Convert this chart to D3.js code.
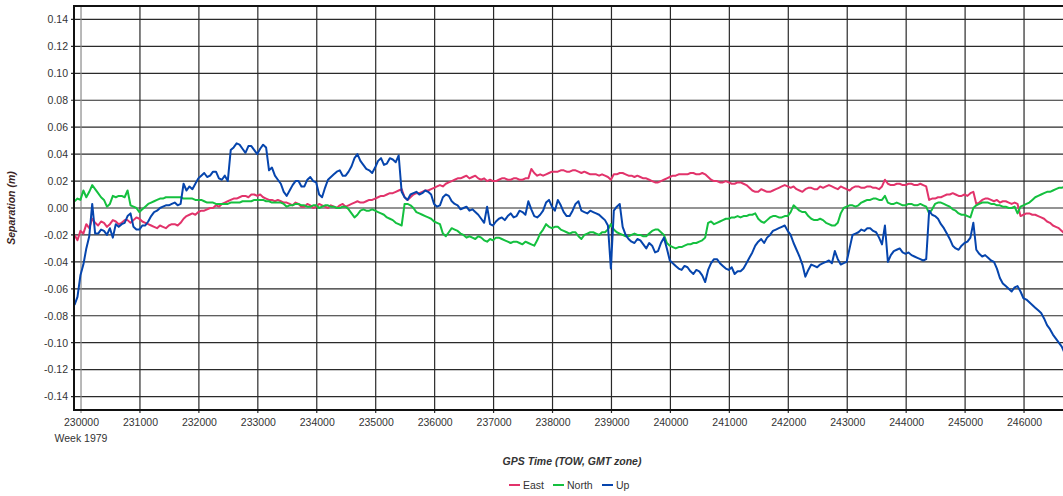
<!DOCTYPE html>
<html><head><meta charset="utf-8">
<script src="https://cdn.jsdelivr.net/npm/d3@7/dist/d3.min.js"></script>
<style>body{margin:0;background:#fff;} svg{display:block;font-family:"Liberation Sans",Arial,sans-serif;}</style>
</head><body><svg id="c" width="1063" height="496"></svg>
<script>
// GPS time of week samples (s), every 50 s
const tStart = 229890, tStep = 50;
const xTicks = [230000,231000,232000,233000,234000,235000,236000,237000,238000,239000,240000,241000,242000,243000,244000,245000,246000];
const yTicks = [-0.14,-0.12,-0.10,-0.08,-0.06,-0.04,-0.02,0.00,0.02,0.04,0.06,0.08,0.10,0.12,0.14];
const seriesNames = ["East","North","Up"];
const seriesColors = ["#e2336b","#14c03f","#0645ad"];

const east = [
 -0.020,-0.024,-0.017,-0.019,-0.012,-0.015,-0.008,-0.011,-0.013,-0.010,-0.011,-0.014,-0.012,-0.009,-0.010,-0.012,-0.011,-0.009,-0.009,-0.011,
 -0.009,-0.007,-0.008,-0.010,-0.011,-0.012,-0.013,-0.014,-0.015,-0.013,-0.014,-0.015,-0.013,-0.012,-0.012,-0.013,-0.011,-0.008,-0.006,-0.005,
 -0.004,-0.005,-0.003,-0.002,-0.002,-0.001,0.000,0.000,0.002,0.001,0.003,0.004,0.005,0.006,0.007,0.007,0.008,0.009,0.009,0.008,
 0.010,0.010,0.009,0.010,0.008,0.007,0.006,0.006,0.005,0.006,0.005,0.004,0.004,0.003,0.002,0.004,0.003,0.001,0.001,0.003,
 0.002,0.000,0.001,0.003,0.002,0.001,0.000,0.002,0.001,0.000,0.002,0.003,0.001,0.002,0.003,0.004,0.005,0.004,0.004,0.005,
 0.006,0.006,0.007,0.008,0.009,0.009,0.010,0.011,0.011,0.012,0.013,0.014,0.008,0.006,0.008,0.010,0.011,0.011,0.012,0.013,
 0.013,0.014,0.015,0.016,0.017,0.016,0.018,0.019,0.020,0.021,0.022,0.022,0.023,0.024,0.022,0.023,0.024,0.022,0.021,0.022,
 0.020,0.021,0.020,0.020,0.021,0.022,0.022,0.021,0.021,0.022,0.022,0.021,0.021,0.022,0.022,0.029,0.026,0.024,0.025,0.024,
 0.025,0.026,0.027,0.027,0.027,0.028,0.028,0.027,0.027,0.028,0.028,0.027,0.026,0.027,0.026,0.025,0.025,0.025,0.024,0.025,
 0.024,0.023,0.021,0.025,0.025,0.026,0.026,0.025,0.024,0.024,0.023,0.024,0.023,0.022,0.022,0.021,0.020,0.019,0.019,0.020,
 0.021,0.022,0.023,0.024,0.024,0.025,0.025,0.025,0.025,0.026,0.026,0.025,0.025,0.026,0.025,0.023,0.021,0.020,0.020,0.019,
 0.019,0.020,0.019,0.018,0.018,0.019,0.019,0.018,0.017,0.015,0.013,0.012,0.012,0.014,0.013,0.012,0.012,0.013,0.014,0.015,
 0.016,0.017,0.016,0.015,0.016,0.014,0.013,0.012,0.014,0.015,0.015,0.014,0.014,0.016,0.015,0.016,0.017,0.016,0.015,0.014,
 0.016,0.015,0.014,0.013,0.015,0.016,0.016,0.015,0.015,0.016,0.016,0.015,0.015,0.014,0.016,0.021,0.018,0.017,0.017,0.018,
 0.018,0.017,0.017,0.018,0.018,0.017,0.017,0.018,0.017,0.016,0.006,0.007,0.007,0.008,0.008,0.009,0.010,0.010,0.011,0.010,
 0.009,0.009,0.010,0.009,0.011,0.012,0.003,0.004,0.006,0.007,0.007,0.006,0.005,0.006,0.004,0.005,0.005,0.004,0.003,0.004,
 0.003,-0.006,-0.005,-0.004,-0.004,-0.005,-0.005,-0.006,-0.007,-0.008,-0.010,-0.011,-0.013,-0.014,-0.015,-0.017,-0.019];

const north = [
 0.005,0.007,0.006,0.013,0.008,0.012,0.017,0.014,0.011,0.008,0.006,0.001,0.003,0.009,0.008,0.009,0.009,0.008,0.013,0.002,
 0.001,0.000,-0.003,-0.001,0.001,0.003,0.004,0.005,0.006,0.007,0.007,0.008,0.008,0.008,0.008,0.008,0.008,0.007,0.007,0.007,
 0.007,0.006,0.006,0.006,0.005,0.004,0.004,0.004,0.003,0.003,0.003,0.003,0.003,0.004,0.004,0.004,0.004,0.005,0.005,0.005,
 0.005,0.006,0.006,0.006,0.006,0.005,0.005,0.004,0.004,0.004,0.004,0.003,0.001,0.002,0.002,0.003,0.003,0.002,0.002,0.001,
 0.001,0.002,0.002,0.000,0.001,0.002,0.002,0.001,0.001,0.000,0.000,0.001,0.001,-0.001,-0.004,-0.007,-0.005,-0.002,-0.001,-0.002,
 -0.002,-0.001,-0.002,-0.003,-0.004,-0.005,-0.007,-0.008,-0.009,-0.011,-0.012,-0.013,0.003,0.003,0.002,0.000,-0.003,-0.004,-0.005,-0.006,
 -0.007,-0.008,-0.010,-0.011,-0.012,-0.019,-0.021,-0.018,-0.015,-0.016,-0.017,-0.019,-0.020,-0.022,-0.021,-0.022,-0.023,-0.021,-0.022,-0.024,
 -0.025,-0.023,-0.024,-0.022,-0.022,-0.023,-0.024,-0.025,-0.026,-0.025,-0.025,-0.026,-0.027,-0.025,-0.026,-0.027,-0.028,-0.024,-0.019,-0.016,
 -0.012,-0.014,-0.015,-0.014,-0.014,-0.016,-0.017,-0.018,-0.019,-0.018,-0.018,-0.021,-0.023,-0.020,-0.019,-0.018,-0.018,-0.019,-0.020,-0.018,
 -0.018,-0.016,-0.012,-0.016,-0.018,-0.019,-0.020,-0.021,-0.021,-0.020,-0.019,-0.020,-0.020,-0.021,-0.021,-0.019,-0.017,-0.016,-0.016,-0.018,
 -0.020,-0.026,-0.028,-0.029,-0.030,-0.029,-0.029,-0.028,-0.027,-0.027,-0.026,-0.026,-0.025,-0.024,-0.022,-0.011,-0.010,-0.012,-0.011,-0.010,
 -0.009,-0.008,-0.008,-0.007,-0.007,-0.006,-0.007,-0.006,-0.006,-0.005,-0.005,-0.004,-0.008,-0.010,-0.011,-0.009,-0.007,-0.006,-0.006,-0.007,
 -0.007,-0.006,-0.006,-0.003,0.002,0.000,-0.002,-0.003,-0.003,-0.006,-0.008,-0.009,-0.009,-0.008,-0.009,-0.011,-0.012,-0.013,-0.013,-0.011,
 -0.004,0.000,0.001,0.002,0.002,0.001,0.002,0.004,0.005,0.006,0.006,0.007,0.007,0.006,0.006,0.009,0.004,0.003,0.003,0.004,
 0.003,0.002,0.002,0.003,0.003,0.002,0.002,0.003,0.002,0.001,-0.004,-0.001,0.003,0.004,0.004,0.003,0.002,0.001,-0.001,-0.002,
 -0.004,-0.005,-0.005,-0.006,-0.007,0.000,0.002,0.003,0.004,0.004,0.004,0.003,0.003,0.002,0.002,0.001,0.001,0.000,0.000,0.001,
 -0.004,0.001,0.002,0.003,0.004,0.006,0.008,0.009,0.010,0.011,0.012,0.012,0.013,0.014,0.015,0.015,0.016];

const up = [
 -0.072,-0.066,-0.050,-0.042,-0.030,-0.021,0.003,-0.019,-0.019,-0.016,-0.017,-0.020,-0.015,-0.022,-0.012,-0.014,-0.012,-0.011,-0.006,-0.004,
 -0.014,-0.016,-0.016,-0.013,-0.013,-0.010,-0.006,-0.003,-0.002,0.000,0.001,0.002,0.002,0.003,0.004,0.002,0.003,0.018,0.013,0.016,
 0.014,0.018,0.022,0.024,0.026,0.023,0.024,0.027,0.027,0.022,0.021,0.024,0.020,0.043,0.045,0.048,0.047,0.044,0.041,0.046,
 0.046,0.043,0.040,0.044,0.047,0.045,0.028,0.030,0.024,0.021,0.018,0.012,0.009,0.013,0.017,0.020,0.020,0.016,0.016,0.021,
 0.023,0.020,0.019,0.010,0.008,0.015,0.021,0.023,0.025,0.027,0.028,0.024,0.024,0.027,0.031,0.037,0.040,0.035,0.032,0.029,
 0.028,0.026,0.030,0.035,0.037,0.032,0.033,0.037,0.036,0.034,0.039,0.012,0.008,0.006,0.010,0.011,0.012,0.010,0.011,0.013,
 0.012,0.010,0.003,0.001,0.002,0.008,0.010,0.009,0.005,0.003,0.002,-0.001,0.000,0.001,-0.002,-0.001,-0.003,-0.005,-0.008,-0.011,
 0.001,-0.012,-0.013,-0.010,-0.008,-0.007,-0.009,-0.006,-0.004,-0.007,-0.006,-0.002,-0.003,-0.005,0.005,-0.001,-0.006,-0.007,-0.005,-0.002,
 0.004,0.006,0.001,-0.002,0.006,0.002,-0.003,-0.006,-0.006,-0.002,0.003,0.005,-0.002,-0.003,-0.004,-0.002,-0.003,-0.004,-0.005,-0.007,
 -0.009,-0.013,-0.045,-0.002,0.001,0.003,-0.014,-0.020,-0.023,-0.025,-0.026,-0.023,-0.024,-0.027,-0.030,-0.026,-0.028,-0.033,-0.032,-0.026,
 -0.022,-0.030,-0.039,-0.041,-0.043,-0.045,-0.046,-0.043,-0.044,-0.047,-0.049,-0.046,-0.047,-0.050,-0.055,-0.046,-0.041,-0.038,-0.038,-0.041,
 -0.043,-0.045,-0.046,-0.044,-0.049,-0.047,-0.047,-0.045,-0.041,-0.037,-0.033,-0.028,-0.025,-0.023,-0.026,-0.022,-0.020,-0.017,-0.016,-0.015,
 -0.014,-0.013,-0.017,-0.020,-0.026,-0.031,-0.036,-0.042,-0.051,-0.046,-0.042,-0.043,-0.044,-0.042,-0.041,-0.040,-0.039,-0.041,-0.032,-0.038,
 -0.042,-0.041,-0.040,-0.030,-0.020,-0.019,-0.018,-0.016,-0.017,-0.015,-0.015,-0.017,-0.018,-0.022,-0.027,-0.013,-0.040,-0.035,-0.032,-0.031,
 -0.030,-0.033,-0.034,-0.033,-0.035,-0.036,-0.037,-0.038,-0.039,-0.038,-0.002,-0.005,-0.006,-0.008,-0.012,-0.015,-0.019,-0.023,-0.028,-0.030,
 -0.031,-0.028,-0.026,-0.025,-0.022,-0.011,-0.031,-0.034,-0.036,-0.035,-0.037,-0.039,-0.040,-0.045,-0.052,-0.056,-0.058,-0.060,-0.062,-0.059,
 -0.058,-0.062,-0.067,-0.068,-0.070,-0.072,-0.074,-0.076,-0.078,-0.082,-0.087,-0.090,-0.094,-0.097,-0.100,-0.103,-0.108];

const seriesValues = [east, north, up];

const svg = d3.select("#c");
const L = 74, T = 6, R = 1063, B = 410;
const x = d3.scaleLinear().domain([229881, 246661]).range([L, R]);
const y = d3.scaleLinear().domain([-0.15, 0.15]).range([B, T]);

// grid
const g = svg.append("g");
g.selectAll("line.h").data(yTicks).join("line")
  .attr("x1", L - 3).attr("x2", R).attr("y1", d => y(d)).attr("y2", d => y(d))
  .attr("stroke", "#2a2a2a").attr("stroke-width", 1.2);
g.selectAll("line.v").data(xTicks).join("line")
  .attr("y1", T).attr("y2", B + 3).attr("x1", d => x(d)).attr("x2", d => x(d))
  .attr("stroke", d => d === 230000 ? "#8a8a8a" : "#2a2a2a").attr("stroke-width", 1.2);

// axis labels via d3 axes
const fmtY = d => d3.format(".2f")(d).replace("−", "-");
const yAxis = svg.append("g").attr("transform", `translate(${L},0)`)
  .call(d3.axisLeft(y).tickValues(yTicks).tickSize(0).tickPadding(6).tickFormat(fmtY));
const xAxis = svg.append("g").attr("transform", `translate(0,${B})`)
  .call(d3.axisBottom(x).tickValues(xTicks).tickSize(0).tickPadding(9).tickFormat(d3.format("d")));
[yAxis, xAxis].forEach(a => {
  a.select(".domain").remove();
  a.selectAll("text").attr("font-size", "10.5px").attr("fill", "#333")
   .attr("font-family", '"Liberation Sans", Arial, sans-serif');
});
svg.append("text").attr("x", x(230000)).attr("y", 442).attr("text-anchor", "middle")
  .attr("font-size", "10.5px").attr("fill", "#333").text("Week 1979");

// lines
svg.append("clipPath").attr("id", "pc").append("rect")
  .attr("x", L).attr("y", T).attr("width", R - L).attr("height", B - T);
const line = d3.line().x((d, i) => x(tStart + i * tStep)).y(d => y(d));
const lg = svg.append("g").attr("clip-path", "url(#pc)");
seriesValues.forEach((vals, k) => {
  lg.append("path").datum(vals).attr("d", line).attr("fill", "none")
    .attr("stroke", seriesColors[k]).attr("stroke-width", 2).attr("stroke-linejoin", "round");
});

// frame
svg.append("path").attr("d", `M${R},${T}H${L}V${B}H${R}`).attr("fill", "none")
  .attr("stroke", "#111").attr("stroke-width", 2);

// titles
svg.append("text").attr("transform", `translate(15,${(T + B) / 2}) rotate(-90)`)
  .attr("text-anchor", "middle").attr("font-size", "10.5px").attr("font-weight", "bold")
  .attr("font-style", "italic").attr("fill", "#3b2525").text("Separation (m)");
svg.append("text").attr("x", 572).attr("y", 465).attr("text-anchor", "middle")
  .attr("font-size", "10.5px").attr("font-weight", "bold").attr("font-style", "italic")
  .attr("fill", "#333").text("GPS Time (TOW, GMT zone)");

// legend
const legX = [509, 553, 602];
const leg = svg.append("g");
seriesNames.forEach((n, k) => {
  leg.append("line").attr("x1", legX[k]).attr("x2", legX[k] + 11).attr("y1", 485).attr("y2", 485)
    .attr("stroke", seriesColors[k]).attr("stroke-width", 2);
  leg.append("text").attr("x", legX[k] + 14).attr("y", 489).attr("font-size", "10.5px")
    .attr("fill", "#333").text(n);
});
</script></body></html>
